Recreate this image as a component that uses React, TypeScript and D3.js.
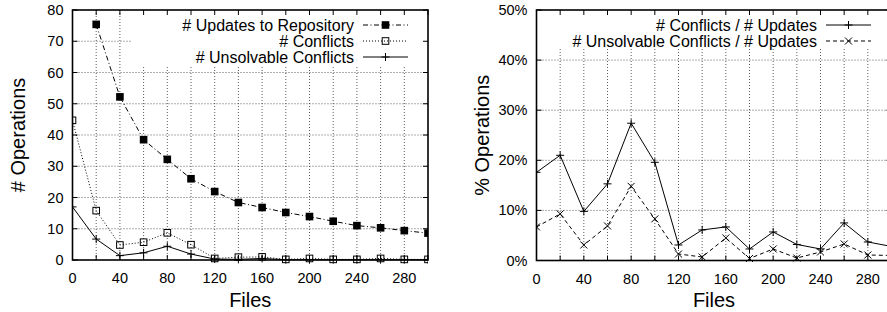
import * as d3 from "d3";
import React from "react";

// x positions (number of files)
const files = [0, 20, 40, 60, 80, 100, 120, 140, 160, 180, 200, 220, 240, 260, 280, 300];

// left panel: absolute counts
const updates = [null, 75.4, 52.2, 38.5, 32.2, 26.0, 21.9, 18.4, 16.8, 15.2, 13.9, 12.4, 11.0, 10.3, 9.4, 8.6];
const conflicts = [44.7, 15.8, 4.8, 5.7, 8.7, 4.9, 0.5, 0.9, 1.0, 0.2, 0.5, 0.2, 0.2, 0.5, 0.2, 0.2];
const unsolvable = [17.0, 6.7, 1.4, 2.3, 4.4, 1.9, 0.3, 0.2, 0.5, 0.1, 0.1, 0.1, 0.1, 0.1, 0.1, 0.1];

// right panel: ratios in percent
const conflictRatio = [17.6, 21.0, 9.8, 15.3, 27.4, 19.6, 3.1, 6.1, 6.7, 2.3, 5.7, 3.2, 2.3, 7.5, 3.7, 2.8];
const unsolvableRatio = [6.7, 9.3, 3.1, 6.9, 14.8, 8.3, 1.3, 0.7, 4.5, 0.4, 2.3, 0.5, 1.7, 3.3, 1.1, 1.0];

const xTicks = d3.range(0, 301, 20);
const xLabels = d3.range(0, 281, 40);
const leftYTicks = d3.range(0, 81, 10);
const rightYTicks = d3.range(0, 51, 10);

const FONT = "'Liberation Sans', Arial, Helvetica, sans-serif";

type Marker = "filledSquare" | "openSquare" | "plus" | "cross";

interface Series {
  label: string;
  values: (number | null)[];
  dash: string;
  marker: Marker;
}

const drawMarker = (m: Marker, x: number, y: number, key: string) => {
  if (m === "filledSquare")
    return <rect key={key} x={x - 3.8} y={y - 3.8} width={7.6} height={7.6} fill="#000" />;
  if (m === "openSquare")
    return <rect key={key} x={x - 3.3} y={y - 3.3} width={6.6} height={6.6} fill="none" stroke="#000" strokeWidth={1} />;
  if (m === "plus")
    return <path key={key} d={`M${x - 4},${y}H${x + 4}M${x},${y - 4}V${y + 4}`} stroke="#000" strokeWidth={1} />;
  return <path key={key} d={`M${x - 3.5},${y - 3.5}L${x + 3.5},${y + 3.5}M${x - 3.5},${y + 3.5}L${x + 3.5},${y - 3.5}`} stroke="#000" strokeWidth={1} />;
};

interface PanelProps {
  id: string;
  left: number;
  width: number;
  top: number;
  bottom: number;
  yMax: number;
  yTicks: number[];
  yFormat: (v: number) => string;
  yTitle: string;
  yTitleX: number;
  series: Series[];
  keyBox: { x0: number; x1: number; y1: number };
  keyTextEnd: number;
  keyRows: number[];
}

const Panel: React.FC<PanelProps> = (p) => {
  const x = d3.scaleLinear().domain([0, 300]).range([p.left, p.left + p.width]);
  const y = d3.scaleLinear().domain([0, p.yMax]).range([p.bottom, p.top]);
  const right = p.left + p.width;
  const line = d3
    .line<[number, number | null]>()
    .defined((d) => d[1] !== null)
    .x((d) => x(d[0]))
    .y((d) => y(d[1] as number));
  const tick = 5;
  const sampleX0 = p.keyTextEnd + 9;
  const sampleX1 = p.keyTextEnd + 54;

  return (
    <g>
      <defs>
        <clipPath id={`clip-${p.id}`}>
          <rect x={p.left} y={p.top - 6} width={p.width} height={p.bottom - p.top + 12} />
        </clipPath>
      </defs>
      {/* grid */}
      <g stroke="#000" strokeWidth={0.8} strokeDasharray="1,2" opacity={0.8}>
        {xTicks.slice(1, -1).map((t) => (
          <line key={`gx${t}`} x1={x(t)} x2={x(t)} y1={p.top} y2={p.bottom} />
        ))}
        {p.yTicks.slice(1, -1).map((t) => (
          <line key={`gy${t}`} x1={p.left} x2={right} y1={y(t)} y2={y(t)} />
        ))}
      </g>
      {/* opaque key box */}
      <rect x={p.keyBox.x0} y={p.top} width={p.keyBox.x1 - p.keyBox.x0} height={p.keyBox.y1 - p.top} fill="#fff" />
      {/* ticks */}
      <g stroke="#000" strokeWidth={1}>
        {xTicks.map((t) => (
          <g key={`tx${t}`}>
            <line x1={x(t)} x2={x(t)} y1={p.bottom} y2={p.bottom - tick} />
            <line x1={x(t)} x2={x(t)} y1={p.top} y2={p.top + tick} />
          </g>
        ))}
        {p.yTicks.map((t) => (
          <g key={`ty${t}`}>
            <line x1={p.left} x2={p.left + tick} y1={y(t)} y2={y(t)} />
            <line x1={right} x2={right - tick} y1={y(t)} y2={y(t)} />
          </g>
        ))}
      </g>
      {/* series */}
      <g clipPath={`url(#clip-${p.id})`}>
        {p.series.map((s, i) => {
          const pts = files.map((f, j) => [f, s.values[j]] as [number, number | null]);
          return (
            <g key={`s${i}`}>
              <path d={line(pts) || ""} fill="none" stroke="#000" strokeWidth={1} strokeDasharray={s.dash} />
              {pts
                .filter((d) => d[1] !== null)
                .map((d) => drawMarker(s.marker, x(d[0]), y(d[1] as number), `m${i}-${d[0]}`))}
            </g>
          );
        })}
      </g>
      {/* frame */}
      <rect x={p.left} y={p.top} width={p.width} height={p.bottom - p.top} fill="none" stroke="#000" strokeWidth={1.6} />
      {/* tick labels */}
      <g fontFamily={FONT} fontSize={14.5} fill="#000">
        {xLabels.map((t) => (
          <text key={`lx${t}`} x={x(t)} y={p.bottom + 23} textAnchor="middle">
            {t}
          </text>
        ))}
        {p.yTicks.map((t) => (
          <text key={`ly${t}`} x={p.left - 9} y={y(t) + 5} textAnchor="end">
            {p.yFormat(t)}
          </text>
        ))}
      </g>
      {/* axis titles */}
      <text x={x(150)} y={307} textAnchor="middle" fontFamily={FONT} fontSize={20}>
        Files
      </text>
      <text
        transform={`translate(${p.yTitleX},${(p.top + p.bottom) / 2}) rotate(-90)`}
        textAnchor="middle"
        fontFamily={FONT}
        fontSize={20}
      >
        {p.yTitle}
      </text>
      {/* key */}
      {p.series.map((s, i) => {
        const ky = p.keyRows[i];
        return (
          <g key={`k${i}`}>
            <text x={p.keyTextEnd} y={ky + 5.5} textAnchor="end" fontFamily={FONT} fontSize={16}>
              {s.label}
            </text>
            <line x1={sampleX0} x2={sampleX1} y1={ky} y2={ky} stroke="#000" strokeWidth={1} strokeDasharray={s.dash} />
            {drawMarker(s.marker, (sampleX0 + sampleX1) / 2, ky, `km${i}`)}
          </g>
        );
      })}
    </g>
  );
};

const App: React.FC = () => {
  const leftSeries: Series[] = [
    { label: "# Updates to Repository", values: updates, dash: "5,2.5,1,2.5", marker: "filledSquare" },
    { label: "# Conflicts", values: conflicts, dash: "1,2", marker: "openSquare" },
    { label: "# Unsolvable Conflicts", values: unsolvable, dash: "", marker: "plus" },
  ];
  const rightSeries: Series[] = [
    { label: "# Conflicts / # Updates", values: conflictRatio, dash: "", marker: "plus" },
    { label: "# Unsolvable Conflicts / # Updates", values: unsolvableRatio, dash: "4,3", marker: "cross" },
  ];

  return (
    <svg
      width={887}
      height={312}
      style={{ position: "absolute", left: 0, top: 0, background: "#fff" }}
    >
      <Panel
        id="left"
        left={72.5}
        width={355.5}
        top={10}
        bottom={260}
        yMax={80}
        yTicks={leftYTicks}
        yFormat={(v) => `${v}`}
        yTitle="# Operations"
        yTitleX={25}
        series={leftSeries}
        keyBox={{ x0: 131, x1: 428, y1: 67 }}
        keyTextEnd={354}
        keyRows={[25, 41, 57]}
      />
      <Panel
        id="right"
        left={536.5}
        width={355}
        top={10}
        bottom={260.5}
        yMax={50}
        yTicks={rightYTicks}
        yFormat={(v) => `${v}%`}
        yTitle="% Operations"
        yTitleX={489}
        series={rightSeries}
        keyBox={{ x0: 536.5, x1: 891.5, y1: 48 }}
        keyTextEnd={817}
        keyRows={[25, 41]}
      />
    </svg>
  );
};

export default App;
